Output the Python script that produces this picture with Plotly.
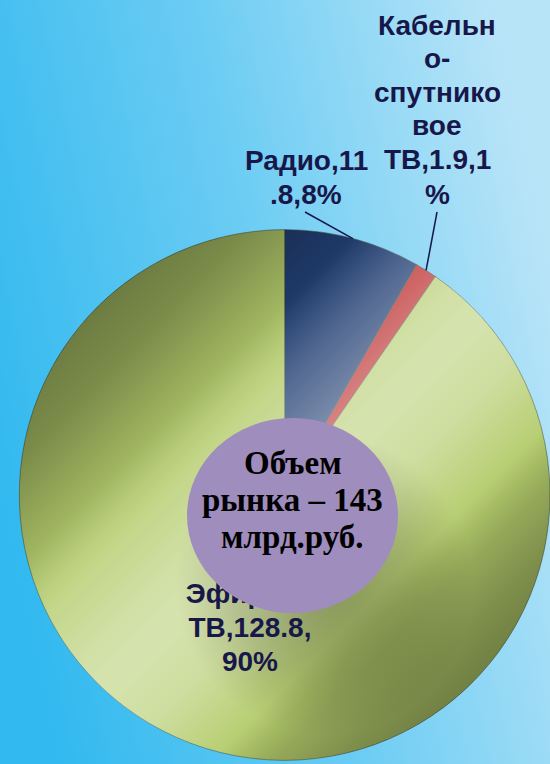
import base64
import math
import plotly.graph_objects as go

W, H = 550, 764

# ---------------- data ----------------
labels = ["Радио", "Кабельно-спутниковое ТВ", "Эфирное ТВ"]
values = [11.8, 1.9, 128.8]
slice_colors = ["#223f73", "#bb2a2a", "#b4cc6c"]
label_line_lengths = [[8, 5], [7, 2, 8, 3, 8, 1], [7, 9, 3]]
center_lines = ["Объем", "рынка – 143", "млрд.руб."]

total = sum(values)
pcts = [round(v / total * 100) for v in values]
full_labels = [f"{l},{v:g},{p}%" for l, v, p in zip(labels, values, pcts)]


def wrap(s, counts):
    out, i = [], 0
    for c in counts:
        while i < len(s) and s[i] == " ":
            i += 1
        out.append(s[i:i + c])
        i += c
    return out


label_lines = [wrap(s, c) for s, c in zip(full_labels, label_line_lengths)]

# ---------------- layout geometry ----------------
TXT = "#17174a"
SANS = "Liberation Sans, Arial, sans-serif"
SERIF = "Liberation Serif, Times New Roman, serif"
FS = 28
dom_x = [0.035, 1.0]
dom_yc = 1 - 495 / H
dom_h = 0.3475
dom_y = [dom_yc - dom_h, dom_yc + dom_h]
cx = (dom_x[0] + dom_x[1]) / 2 * W
cy = (1 - dom_yc) * H
r = min((dom_x[1] - dom_x[0]) * W, (dom_y[1] - dom_y[0]) * H) / 2

label_x = [306, 437, 250]
label_baselines = [[170, 204], [35, 68.5, 102, 135.5, 169.5, 204], [603, 637, 671]]
leader_start = [(305, 212), (437, 212), None]

circle_box = (187, 418, 398, 613)  # x0, y0, x1, y1 in px
circle_x = 292.5
circle_baselines = [474, 511, 548]
CFS = 33


def px(x):
    return x / W


def py(y):
    return 1 - y / H


fig = go.Figure(go.Pie(
    labels=labels,
    values=values,
    sort=False,
    direction="clockwise",
    rotation=0,
    marker=dict(colors=slice_colors, line=dict(color="rgba(70,80,60,0.55)", width=1)),
    textinfo="none",
    hoverinfo="label+value+percent",
    domain=dict(x=dom_x, y=dom_y),
    showlegend=False,
))

# ---------------- decorative gradients ----------------
bg_svg = f'''<svg xmlns="http://www.w3.org/2000/svg" width="{W}" height="{H}" viewBox="0 0 {W} {H}" preserveAspectRatio="none">
<defs><linearGradient id="b" x1="0" y1="0.65" x2="1" y2="0.35">
<stop offset="0" stop-color="#32b9ef"/><stop offset="0.5" stop-color="#6bccf3"/><stop offset="1" stop-color="#b8e4f8"/>
</linearGradient></defs><rect width="{W}" height="{H}" fill="url(#b)"/></svg>'''

L = 0.75 * r
g = f'gradientUnits="userSpaceOnUse" x1="{cx - L:.1f}" y1="{cy - L:.1f}" x2="{cx + L:.1f}" y2="{cy + L:.1f}"'
shade_svg = f'''<svg xmlns="http://www.w3.org/2000/svg" width="{W}" height="{H}" viewBox="0 0 {W} {H}" preserveAspectRatio="none">
<defs>
<clipPath id="c"><circle cx="{cx:.1f}" cy="{cy:.1f}" r="{r:.1f}"/></clipPath>
<linearGradient id="k" {g}>
<stop offset="0" stop-color="#000" stop-opacity="0.42"/>
<stop offset="0.12" stop-color="#000" stop-opacity="0.32"/>
<stop offset="0.2" stop-color="#000" stop-opacity="0.2"/>
<stop offset="0.3" stop-color="#000" stop-opacity="0.04"/>
<stop offset="0.34" stop-color="#000" stop-opacity="0"/>
<stop offset="0.74" stop-color="#000" stop-opacity="0"/>
<stop offset="0.82" stop-color="#000" stop-opacity="0.18"/>
<stop offset="0.9" stop-color="#000" stop-opacity="0.3"/>
<stop offset="1" stop-color="#000" stop-opacity="0.4"/>
</linearGradient>
<linearGradient id="w" {g}>
<stop offset="0.26" stop-color="#fff" stop-opacity="0"/>
<stop offset="0.36" stop-color="#fff" stop-opacity="0.22"/>
<stop offset="0.46" stop-color="#fff" stop-opacity="0.4"/>
<stop offset="0.52" stop-color="#fff" stop-opacity="0.45"/>
<stop offset="0.62" stop-color="#fff" stop-opacity="0.35"/>
<stop offset="0.72" stop-color="#fff" stop-opacity="0.1"/>
<stop offset="0.78" stop-color="#fff" stop-opacity="0"/>
</linearGradient>
<radialGradient id="s" gradientUnits="userSpaceOnUse" cx="325" cy="585" r="150">
<stop offset="0" stop-color="#000" stop-opacity="0.3"/>
<stop offset="0.6" stop-color="#000" stop-opacity="0.14"/>
<stop offset="1" stop-color="#000" stop-opacity="0"/>
</radialGradient>
</defs>
<g clip-path="url(#c)">
<rect width="{W}" height="{H}" fill="url(#k)"/>
<rect width="{W}" height="{H}" fill="url(#w)"/>
<circle cx="325" cy="585" r="150" fill="url(#s)"/>
</g></svg>'''


def uri(svg):
    return "data:image/svg+xml;base64," + base64.b64encode(svg.encode("utf-8")).decode()


images = [
    dict(source=uri(bg_svg), xref="paper", yref="paper", x=0, y=1, sizex=1, sizey=1,
         xanchor="left", yanchor="top", sizing="stretch", layer="below"),
    dict(source=uri(shade_svg), xref="paper", yref="paper", x=0, y=1, sizex=1, sizey=1,
         xanchor="left", yanchor="top", sizing="stretch", layer="above"),
]

# ---------------- labels ----------------
annotations = []
shapes = []
cum = 0.0
for i, v in enumerate(values):
    mid = (cum + v / 2) / total * 360
    cum += v
    lines = label_lines[i]
    if leader_start[i] is not None:
        ex = cx + r * math.sin(math.radians(mid))
        ey = cy - r * math.cos(math.radians(mid))
        sx, sy = leader_start[i]
        shapes.append(dict(type="line", xref="paper", yref="paper",
                           x0=px(sx), y0=py(sy), x1=px(ex), y1=py(ey),
                           line=dict(color=TXT, width=1.5), layer="above"))
        for ln, b in zip(lines, label_baselines[i]):
            annotations.append(dict(
                x=px(label_x[i]), y=py(b - 0.3465 * FS), xref="paper", yref="paper",
                text=ln, showarrow=False, xanchor="center", yanchor="middle",
                font=dict(family=SANS, size=FS, color=TXT, weight="bold")))
    else:
        # inside label, placed under the central disc
        for ln, b in zip(lines, label_baselines[i]):
            c = b - 0.44 * FS
            shapes.append(dict(
                type="rect", xref="paper", yref="paper",
                x0=px(label_x[i] - 90), x1=px(label_x[i] + 90), y0=py(c + 1), y1=py(c - 1),
                line=dict(width=0), fillcolor="rgba(0,0,0,0)", layer="above",
                label=dict(text=ln, textposition="middle center",
                           font=dict(family=SANS, size=FS, color=TXT, weight="bold"))))

# central disc
x0, y0, x1, y1 = circle_box
shapes.append(dict(type="circle", xref="paper", yref="paper",
                   x0=px(x0), x1=px(x1), y0=py(y1), y1=py(y0),
                   fillcolor="#9f8dbd", line=dict(width=0), layer="above"))

for ln, b in zip(center_lines, circle_baselines):
    annotations.append(dict(
        x=px(circle_x), y=py(b - 0.3375 * CFS), xref="paper", yref="paper",
        text=ln, showarrow=False, xanchor="center", yanchor="middle",
        font=dict(family=SERIF, size=CFS, color="#000000", weight="bold")))

fig.update_layout(
    width=W, height=H,
    margin=dict(l=0, r=0, t=0, b=0),
    paper_bgcolor="#6dcdf3",
    plot_bgcolor="rgba(0,0,0,0)",
    showlegend=False,
    images=images,
    shapes=shapes,
    annotations=annotations,
)

fig.write_html(
    "out.html",
    config={"displayModeBar": False},
    post_script="document.body.style.margin='0px';document.body.style.overflow='hidden';",
)
